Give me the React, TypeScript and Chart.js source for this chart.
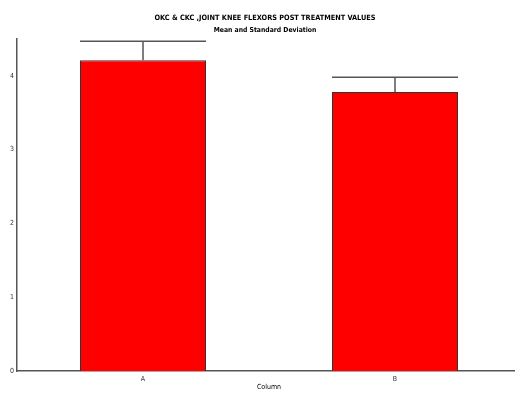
import React, { useEffect, useRef } from "react";
import { Chart, registerables } from "chart.js";

Chart.register(...registerables);

const categories = ["A", "B"];
const means = [4.21, 3.78];
const sds = [0.26, 0.2];
const yTicks = [0, 1, 2, 3, 4];
const titleText = "OKC & CKC ,JOINT KNEE FLEXORS POST TREATMENT VALUES";
const subtitleText = "Mean and Standard Deviation";
const xTitle = "Column";

const FONT = "'DejaVu Sans Condensed', 'Liberation Sans Narrow', 'Liberation Sans', Arial, sans-serif";

const errorBars = {
  id: "errorBars",
  afterDatasetsDraw(chart: any) {
    const ctx = chart.ctx;
    const meta = chart.getDatasetMeta(0);
    const y = chart.scales.y;
    ctx.save();
    ctx.strokeStyle = "#555555";
    ctx.lineWidth = 1.5;
    meta.data.forEach((bar: any, i: number) => {
      const top = y.getPixelForValue(means[i] + sds[i]);
      const base = y.getPixelForValue(means[i]);
      const half = bar.width / 2;
      ctx.beginPath();
      ctx.moveTo(bar.x, base);
      ctx.lineTo(bar.x, top);
      ctx.moveTo(bar.x - half, top);
      ctx.lineTo(bar.x + half, top);
      ctx.stroke();
    });
    ctx.restore();
  },
};

export default function App() {
  const ref = useRef<HTMLCanvasElement>(null);
  useEffect(() => {
    if (!ref.current) return;
    const chart = new Chart(ref.current, {
      type: "bar",
      data: {
        labels: categories,
        datasets: [
          {
            data: means,
            backgroundColor: "#ff0000",
            borderColor: "#333333",
            borderWidth: 1,
            categoryPercentage: 1,
            barPercentage: 0.5,
          },
        ],
      },
      options: {
        animation: false,
        responsive: false,
        maintainAspectRatio: false,
        layout: { padding: { left: 9, right: 0, top: 0, bottom: 1 } },
        plugins: {
          legend: { display: false },
          tooltip: { enabled: false },
          title: {
            display: true,
            text: titleText,
            color: "#000",
            font: { family: FONT, size: 7.3, weight: "bold" },
            padding: { top: 14, bottom: 2 },
          },
          subtitle: {
            display: true,
            text: subtitleText,
            color: "#000",
            font: { family: FONT, size: 6.8, weight: "bold" },
            padding: { top: 1, bottom: 5 },
          },
        },
        scales: {
          x: {
            grid: { display: false, drawTicks: true, tickLength: 3 },
            border: { color: "#555555", width: 1.5 },
            ticks: { color: "#333", font: { family: FONT, size: 7 }, padding: 1 },
            title: {
              display: true,
              text: xTitle,
              color: "#000",
              font: { family: FONT, size: 7 },
              padding: { top: -2, bottom: 2 },
            },
          },
          y: {
            min: 0,
            max: 4.5,
            afterBuildTicks: (axis: any) => {
              axis.ticks = yTicks.map((v) => ({ value: v }));
            },
            grid: { display: false, drawTicks: true, tickLength: 2 },
            border: { color: "#555555", width: 1.5 },
            ticks: { color: "#333", font: { family: FONT, size: 7 }, padding: 1 },
          },
        },
      },
      plugins: [errorBars],
    } as any);
    return () => chart.destroy();
  }, []);
  return (
    <div style={{ position: "fixed", left: 0, top: 0, width: 515, height: 394, background: "#fff", overflow: "hidden" }}>
      <canvas ref={ref} width={521} height={394} style={{ display: "block" }} />
    </div>
  );
}
